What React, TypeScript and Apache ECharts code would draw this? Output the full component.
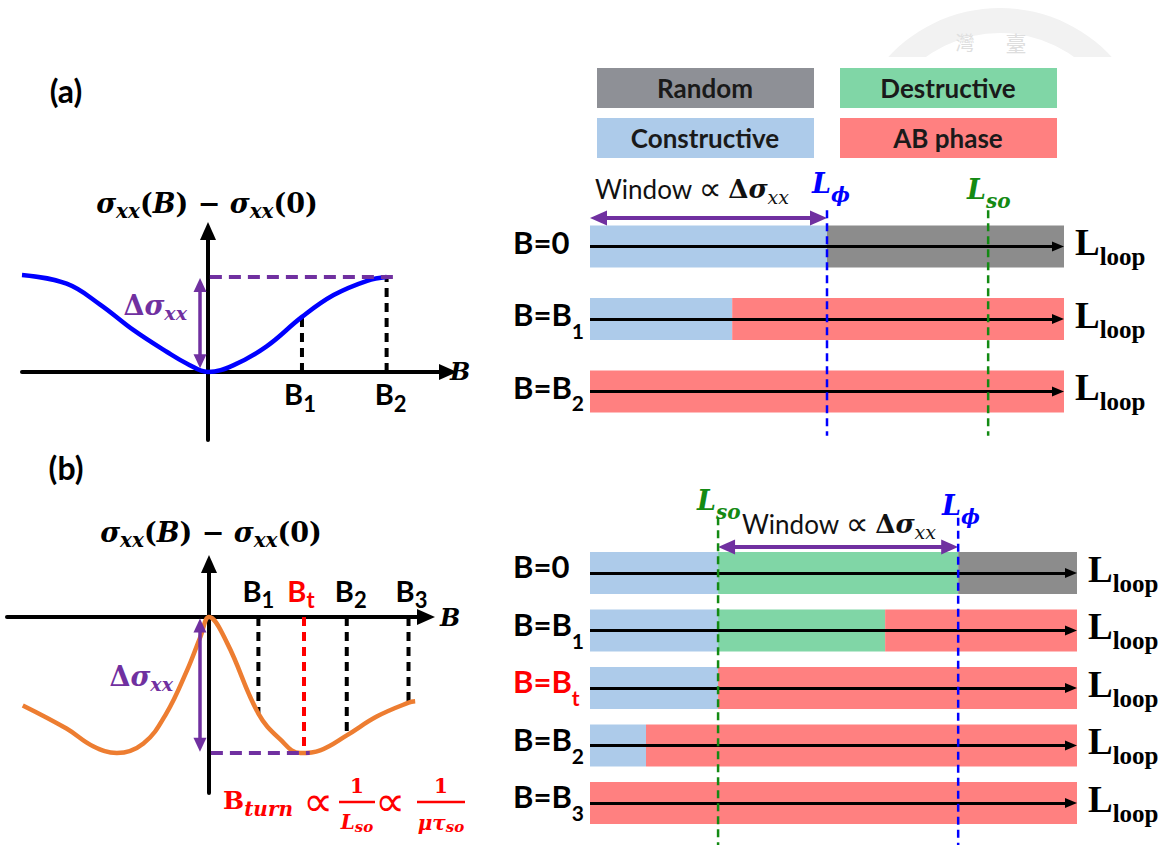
import React, { useEffect, useRef } from 'react';
import * as echarts from 'echarts';

const WIDTH = 1174;
const HEIGHT = 845;

const SANS = 'Lato, "Open Sans", "DejaVu Sans", sans-serif';
const SERIF = '"Liberation Serif", "DejaVu Serif", serif';
const MATH = '"DejaVu Serif", "Liberation Serif", serif';
const SYMBOL = '"DejaVu Sans", "Noto Sans", sans-serif';
const CJK = '"Noto Sans CJK TC", "Noto Sans CJK SC", sans-serif';

const INK = '#000000';
const PURPLE = '#7030a0';
const RED = '#ff0000';
const BLUE = '#0000ff';
const GREEN = '#138a13';
const ORANGE = '#ed7d31';

// Interference regimes (key boxes, then bar fills)
const regimeNames = ['Random', 'Destructive', 'Constructive', 'AB phase'];
const regimeKeyColors = ['#8e9096', '#80d6a6', '#adcbea', '#ff8080'];
const RANDOM_BAR = '#8c8c8c';
const DESTRUCTIVE_BAR = '#80d6a6';
const CONSTRUCTIVE_BAR = '#adcbea';
const AB_BAR = '#ff8080';

// ---------- (a) magnetoconductance, no spin-orbit window ----------
const curveAX = [-2, -1.52, -1.16, -0.8, -0.44, -0.23, 0, 0.27, 0.63, 1.01, 1.35, 1.71, 1.92];
const curveAY = [1.02, 0.93, 0.71, 0.44, 0.21, 0.09, 0, 0.07, 0.27, 0.58, 0.81, 0.96, 1.0];
const fieldPosA = [1.01, 1.92];
const fieldSubA = ['1', '2'];
const fieldCurveA = [0.58, 1.0];
const deltaSigmaA = 1.0;

// ---------- (b) magnetoconductance with spin-orbit turning point ----------
const curveBX = [-1.96, -1.5, -1.22, -0.97, -0.69, -0.45, -0.23, -0.09, 0, 0.19, 0.52, 0.75, 0.96, 1.17, 1.45, 1.77, 2.1, 2.17];
const curveBY = [-0.65, -0.82, -0.95, -1.0, -0.93, -0.71, -0.39, -0.145, 0, -0.19, -0.71, -0.9, -1.0, -0.98, -0.87, -0.73, -0.63, -0.62];
const fieldPosB = [0.52, 1.0, 1.45, 2.1];
const fieldSubB = ['1', 't', '2', '3'];
const fieldCurveB = [-0.71, -1.0, -0.87, -0.63];
const turnFieldB = 1; // index of B_t
const deltaSigmaB = -1.0;

// ---------- loop-length bars, in percent of L_loop ----------
const rowMainA = ['B=0', 'B=B', 'B=B'];
const rowSubA = ['', '1', '2'];
const constructiveA = [50, 30, 0];
const destructiveA = [0, 0, 0];
const randomA = [50, 0, 0];
const abPhaseA = [0, 70, 100];
const lPhiA = 50;
const lSoA = 84;

const rowMainB = ['B=0', 'B=B', 'B=B', 'B=B', 'B=B'];
const rowSubB = ['', '1', 't', '2', '3'];
const constructiveB = [26.3, 26.3, 26.3, 11.5, 0];
const destructiveB = [49.3, 34.3, 0, 0, 0];
const randomB = [24.4, 0, 0, 0, 0];
const abPhaseB = [0, 39.4, 73.7, 88.5, 100];
const turnRowB = 2;
const lSoB = 26.3;
const lPhiB = 75.6;

const zip = (xs: number[], ys: number[]) => xs.map((x, i) => [x, ys[i]]);

// ---------- layout ----------
const GRID_CURVE_A = { left: 22, top: 231, width: 426, height: 209 };
const GRID_CURVE_B = { left: 7, top: 564, width: 419, height: 229 };
const GRID_BARS_A = { left: 590, top: 210.25, width: 474, height: 217.5 };
const GRID_BARS_B = { left: 590, top: 544.25, width: 487, height: 287.5 };

const noAxisDecor = {
  axisTick: { show: false },
  axisLabel: { show: false },
  splitLine: { show: false },
};

const arrowAxisLine = {
  show: true,
  onZero: true,
  symbol: ['none', 'triangle'],
  symbolSize: [16, 18],
  lineStyle: { color: INK, width: 4 },
};

function curveAxes(gridIndex: number, xr: number[], yr: number[], nameGap: number) {
  return {
    x: {
      type: 'value', gridIndex, min: xr[0], max: xr[1],
      axisLine: arrowAxisLine, ...noAxisDecor,
      name: 'B', nameLocation: 'end', nameGap,
      nameTextStyle: { fontFamily: MATH, fontWeight: 'bold', fontStyle: 'italic', fontSize: 24, color: INK },
    },
    y: {
      type: 'value', gridIndex, min: yr[0], max: yr[1],
      axisLine: arrowAxisLine, ...noAxisDecor,
    },
  };
}

function fieldMarkers(
  gi: number, xs: number[], vals: number[], subs: string[], highlight: number,
  labelDy: number, labelDx: number[],
) {
  return xs.map((x, i) => {
    const col = i === highlight ? RED : INK;
    return {
      type: 'line', xAxisIndex: gi, yAxisIndex: gi, silent: true, z: 3,
      symbol: 'circle', symbolSize: 0, showSymbol: true,
      emphasis: { disabled: true },
      lineStyle: { color: col, width: 4, type: [9, 6] },
      itemStyle: { color: col },
      data: [
        {
          value: [x, 0],
          label: {
            show: true, position: 'inside', offset: [labelDx[i], labelDy],
            formatter: `{m|B}{s|${subs[i]}}`,
            rich: {
              m: { fontFamily: SANS, fontWeight: 'bold', fontSize: 29, color: col },
              s: { fontFamily: SANS, fontWeight: 'bold', fontSize: 22, color: col, padding: [19, 0, 0, 0] },
            },
          },
        },
        [x, vals[i]],
      ],
    };
  });
}

function rowLabelFormatter(mains: string[], subs: string[], highlight: number) {
  return (_v: string, i: number) => {
    const m = i === highlight ? 'mr' : 'm';
    const s = i === highlight ? 'sr' : 's';
    return subs[i] ? `{${m}|${mains[i]}}{${s}|${subs[i]}}` : `{${m}|${mains[i]}}`;
  };
}

function rowRich(mainPad: number, subPad: number) {
  const m = { fontFamily: SANS, fontWeight: 'bold', fontSize: 31, padding: [0, 0, mainPad, 0] };
  const s = { fontFamily: SANS, fontWeight: 'bold', fontSize: 21, padding: [subPad, 0, 0, 0] };
  return {
    m: { ...m, color: INK }, s: { ...s, color: INK },
    mr: { ...m, color: RED }, sr: { ...s, color: RED },
  };
}

const loopRich = {
  L: { fontFamily: SERIF, fontWeight: 'bold', fontSize: 37, color: INK, padding: [0, 0, 8, 0] },
  s: { fontFamily: SERIF, fontWeight: 'bold', fontSize: 25, color: INK, padding: [20, 0, 0, 0] },
};

function barPanel(opts: any) {
  const {
    gi, yCat, yVal, grid, mains, subs, highlight, segs, lines, windowArrow, mainPad, subPad,
  } = opts;
  const cats = mains.map((m: string, i: number) => m + subs[i]);
  const n = cats.length;
  const pxToData = (px: number) => (px / grid.width) * 100;

  const xAxis = { type: 'value', gridIndex: gi, min: 0, max: 100, show: false };
  const yAxes = [
    {
      type: 'category', gridIndex: gi, data: cats, inverse: true, position: 'left',
      axisLine: { show: false }, axisTick: { show: false }, splitLine: { show: false },
      axisLabel: {
        show: true, interval: 0, align: 'left', margin: 77, verticalAlign: 'middle',
        formatter: rowLabelFormatter(mains, subs, highlight), rich: rowRich(mainPad, subPad),
      },
    },
    {
      type: 'category', gridIndex: gi, data: cats, inverse: true, position: 'right',
      axisLine: { show: false }, axisTick: { show: false }, splitLine: { show: false },
      axisLabel: {
        show: true, interval: 0, align: 'left', margin: 11, verticalAlign: 'middle',
        formatter: () => '{L|L}{s|loop}', rich: loopRich,
      },
    },
    { type: 'value', gridIndex: gi, min: -0.5, max: n - 0.5, inverse: true, show: false },
  ];

  const series: any[] = segs.map((sg: any) => ({
    type: 'bar', name: sg.name, xAxisIndex: gi, yAxisIndex: yCat, stack: 'loop' + gi,
    data: sg.values, barWidth: 42, silent: true, z: 2,
    itemStyle: { color: sg.color, borderRadius: 0 },
  }));

  // black propagation arrows along each loop-length bar
  const headInset = pxToData(6);
  series.push({
    type: 'line', xAxisIndex: gi, yAxisIndex: yVal, data: [], silent: true, z: 3,
    markLine: {
      silent: true, animation: false,
      symbol: ['none', 'triangle'], symbolSize: [10, 12],
      lineStyle: { color: INK, width: 3, type: 'solid' },
      itemStyle: { color: INK },
      label: { show: false },
      data: cats.map((_c: string, i: number) => [
        { coord: [0, i] }, { coord: [100 - headInset, i] },
      ]),
    },
  });

  // purple window arrow
  const wInset = pxToData(8.5);
  series.push({
    type: 'line', xAxisIndex: gi, yAxisIndex: yVal, data: [], silent: true, z: 4,
    markLine: {
      silent: true, animation: false,
      symbol: ['triangle', 'triangle'], symbolSize: [15, 17],
      lineStyle: { color: PURPLE, width: 4, type: 'solid' },
      itemStyle: { color: PURPLE },
      label: { show: false },
      data: [[
        { coord: [windowArrow.from + wInset, windowArrow.y] },
        { coord: [windowArrow.to - wInset, windowArrow.y] },
      ]],
    },
  });

  // dashed L_phi / L_so markers
  lines.forEach((ln: any) => {
    series.push({
      type: 'line', xAxisIndex: gi, yAxisIndex: yVal, silent: true, z: 5, clip: false,
      symbol: 'none',
      lineStyle: { color: ln.color, width: 2.5, type: [8, 5] },
      data: [[ln.x, ln.y0], [ln.x, ln.y1]],
    });
  });

  return { xAxis, yAxes, series };
}

function rt(x: number, y: number, text: string, rich: any, align = 'center', z = 20) {
  return {
    type: 'text', x, y, z, silent: true,
    style: { text, rich, align, verticalAlign: 'middle', fontFamily: MATH, fontSize: 26 },
  };
}

const mathStyle = (size: number, fill: string, italic: boolean, bold = true, pad?: number) => ({
  fontFamily: MATH, fontSize: size, fill,
  fontWeight: bold ? 'bold' : 'normal',
  fontStyle: italic ? 'italic' : 'normal',
  ...(pad ? { padding: [pad, 0, 0, 0] } : {}),
});

const propStyle = (size: number, fill: string) => ({ fontFamily: SYMBOL, fontSize: size, fill });

function buildOption() {
  const axA = curveAxes(0, [-2, 2.58], [-0.716, 1.484], 2);
  const axB = curveAxes(1, [-2.126, 2.284], [-1.294, 0.39], 14);

  const panelA = barPanel({
    gi: 2, yCat: 2, yVal: 4, grid: GRID_BARS_A,
    mains: rowMainA, subs: rowSubA, highlight: -1, mainPad: 10, subPad: 22,
    segs: [
      { name: 'Constructive', values: constructiveA, color: CONSTRUCTIVE_BAR },
      { name: 'Destructive', values: destructiveA, color: DESTRUCTIVE_BAR },
      { name: 'Random', values: randomA, color: RANDOM_BAR },
      { name: 'AB phase', values: abPhaseA, color: AB_BAR },
    ],
    lines: [
      { x: lPhiA, y0: -0.5, y1: 2.61, color: BLUE },
      { x: lSoA, y0: -0.5, y1: 2.61, color: GREEN },
    ],
    windowArrow: { from: 0, to: lPhiA, y: -0.393 },
  });

  const panelB = barPanel({
    gi: 3, yCat: 5, yVal: 7, grid: GRID_BARS_B,
    mains: rowMainB, subs: rowSubB, highlight: turnRowB, mainPad: 14, subPad: 19,
    segs: [
      { name: 'Constructive', values: constructiveB, color: CONSTRUCTIVE_BAR },
      { name: 'Destructive', values: destructiveB, color: DESTRUCTIVE_BAR },
      { name: 'Random', values: randomB, color: RANDOM_BAR },
      { name: 'AB phase', values: abPhaseB, color: AB_BAR },
    ],
    lines: [
      { x: lSoB, y0: -0.97, y1: 4.75, color: GREEN },
      { x: lPhiB, y0: -0.96, y1: 4.75, color: BLUE },
    ],
    windowArrow: { from: lSoB, to: lPhiB, y: -0.452 },
  });

  const curveSeries = (gi: number, data: number[][], color: string) => ({
    type: 'line', xAxisIndex: gi, yAxisIndex: gi, data, smooth: 0.4, symbol: 'none',
    silent: true, z: 4, lineStyle: { color, width: 4.5 },
  });

  const purpleGuide = (gi: number, x0: number, x1: number, y: number, ax: number, a0: number, a1: number) => ({
    type: 'line', xAxisIndex: gi, yAxisIndex: gi, silent: true, z: 5, symbol: 'none',
    lineStyle: { color: PURPLE, width: 4, type: [12, 7] },
    data: [[x0, y], [x1, y]],
    markLine: {
      silent: true, animation: false,
      symbol: ['triangle', 'triangle'], symbolSize: [13, 14],
      lineStyle: { color: PURPLE, width: 3.5, type: 'solid' },
      itemStyle: { color: PURPLE },
      label: { show: false },
      data: [[{ coord: [ax, a0] }, { coord: [ax, a1] }]],
    },
  });

  const series: any[] = [
    curveSeries(0, zip(curveAX, curveAY), BLUE),
    ...fieldMarkers(0, fieldPosA, fieldCurveA, fieldSubA, -1, 22, [-2, 4]),
    purpleGuide(0, 0.02, 1.99, deltaSigmaA, -0.086, 0.04 + 7 / 95, deltaSigmaA - 0.01 - 7 / 95),

    curveSeries(1, zip(curveBX, curveBY), ORANGE),
    ...fieldMarkers(1, fieldPosB, fieldCurveB, fieldSubB, turnFieldB, -27, [0, -3, 4, 3]),
    purpleGuide(1, 0.02, 1.06, deltaSigmaB, -0.095, -0.01 - 7 / 136, deltaSigmaB + 0.01 + 7 / 136),

    ...panelA.series,
    ...panelB.series,
  ];

  // ----- texts and key -----
  const titleRich = {
    i: mathStyle(27, INK, true),
    u: mathStyle(27, INK, false),
    s: mathStyle(20, INK, true, true, 15),
  };
  const titleText = '{i|σ}{s|xx}{u|(}{i|B}{u|) − }{i|σ}{s|xx}{u|(0)}';

  const deltaRich = {
    u: mathStyle(27, PURPLE, false),
    i: mathStyle(27, PURPLE, true),
    s: mathStyle(19, PURPLE, true, true, 15),
  };

  const windowRich = {
    w: { fontFamily: SANS, fontSize: 26, fill: '#111111' },
    p: propStyle(32, '#111111'),
    d: mathStyle(26, '#111111', false),
    g: mathStyle(26, '#111111', true),
    s: mathStyle(19, '#111111', true, false, 15),
  };
  const windowText = '{w|Window }{p|∝}{w| }{d|Δ}{g|σ}{s|xx}';

  const lRich = (color: string) => ({
    i: mathStyle(27, color, true),
    s: mathStyle(20, color, true, true, 24),
  });

  const keyBoxes = [
    { x: 597, y: 68 }, { x: 840, y: 68 }, { x: 597, y: 118 }, { x: 840, y: 118 },
  ];

  const graphic: any[] = [
    // faint seal in the page corner
    {
      type: 'sector', z: 0, silent: true,
      shape: { cx: 1000, cy: 160, r: 152, r0: 127, startAngle: -Math.PI / 2 - 0.9, endAngle: -Math.PI / 2 + 0.9 },
      style: { fill: '#f2f2f2' },
    },
    { type: 'text', x: 965, y: 41, z: 0, silent: true, style: { text: '灣', fontFamily: CJK, fontSize: 19, fill: '#dedede', align: 'center', verticalAlign: 'middle' } },
    { type: 'text', x: 1016, y: 42, z: 0, silent: true, style: { text: '臺', fontFamily: CJK, fontSize: 21, fill: '#dedede', align: 'center', verticalAlign: 'middle' } },
    { type: 'rect', z: 1, silent: true, shape: { x: 850, y: 57, width: 300, height: 40 }, style: { fill: '#ffffff' } },

    // panel tags
    { type: 'text', x: 66, y: 90, z: 20, silent: true, style: { text: '(a)', fontFamily: SANS, fontWeight: 'bold', fontSize: 32, fill: INK, align: 'center', verticalAlign: 'middle' } },
    { type: 'text', x: 66, y: 467, z: 20, silent: true, style: { text: '(b)', fontFamily: SANS, fontWeight: 'bold', fontSize: 32, fill: INK, align: 'center', verticalAlign: 'middle' } },

    // curve titles
    rt(207, 203, titleText, titleRich),
    rt(211, 532, titleText, titleRich),

    // Δσxx beside the purple arrows
    rt(187, 305, '{u|Δ}{i|σ}{s|xx}', deltaRich, 'right'),
    rt(173, 676, '{u|Δ}{i|σ}{s|xx}', deltaRich, 'right'),

    // window captions and length scales
    rt(595, 189, windowText, windowRich, 'left'),
    rt(742, 524, windowText, windowRich, 'left'),
    rt(812, 183, '{i|L}{s|ϕ}', lRich(BLUE), 'left'),
    rt(967, 189, '{i|L}{s|so}', lRich(GREEN), 'left'),
    rt(942, 505, '{i|L}{s|ϕ}', lRich(BLUE), 'left'),
    rt(697, 500, '{i|L}{s|so}', lRich(GREEN), 'left'),

    // turning field relation
    rt(223, 800, '{b|B}{s|turn}', { b: mathStyle(25, RED, false), s: mathStyle(20, RED, true, true, 18) }, 'left'),
    rt(318, 801, '{p|∝}', { p: propStyle(42, RED) }),
    rt(357, 786, '{n|1}', { n: mathStyle(20, RED, false) }),
    { type: 'line', z: 20, silent: true, shape: { x1: 339, y1: 802, x2: 375, y2: 802 }, style: { stroke: RED, lineWidth: 2.5 } },
    rt(357, 822, '{i|L}{s|so}', { i: mathStyle(20, RED, true), s: mathStyle(15, RED, true, true, 10) }),
    rt(390, 801, '{p|∝}', { p: propStyle(42, RED) }),
    rt(441, 786, '{n|1}', { n: mathStyle(20, RED, false) }),
    { type: 'line', z: 20, silent: true, shape: { x1: 417, y1: 802, x2: 465, y2: 802 }, style: { stroke: RED, lineWidth: 2.5 } },
    rt(441, 823, '{i|μτ}{s|so}', { i: mathStyle(20, RED, true), s: mathStyle(15, RED, true, true, 8) }),
  ];

  regimeNames.forEach((name, i) => {
    const b = keyBoxes[i];
    graphic.push({
      type: 'rect', z: 2, silent: true,
      shape: { x: b.x, y: b.y, width: 217, height: 40 },
      style: { fill: regimeKeyColors[i] },
    });
    graphic.push({
      type: 'text', z: 3, silent: true, x: b.x + 108, y: b.y + 20,
      style: { text: name, fontFamily: SANS, fontWeight: 'bold', fontSize: 26, fill: '#1a1a1a', align: 'center', verticalAlign: 'middle' },
    });
  });

  return {
    animation: false,
    backgroundColor: '#ffffff',
    grid: [GRID_CURVE_A, GRID_CURVE_B, GRID_BARS_A, GRID_BARS_B].map((g) => ({
      ...g, containLabel: false, outerBoundsMode: 'none', show: false,
    })),
    xAxis: [axA.x, axB.x, panelA.xAxis, panelB.xAxis],
    yAxis: [axA.y, axB.y, ...panelA.yAxes, ...panelB.yAxes],
    series,
    graphic,
  };
}

export default function App() {
  const ref = useRef<HTMLDivElement>(null);
  useEffect(() => {
    document.body.style.margin = '0';
    const chart = echarts.init(ref.current as HTMLDivElement, null, { renderer: 'svg', width: WIDTH, height: HEIGHT });
    chart.setOption(buildOption() as any);
    return () => chart.dispose();
  }, []);
  return <div ref={ref} style={{ width: WIDTH, height: HEIGHT, background: '#ffffff' }} />;
}
